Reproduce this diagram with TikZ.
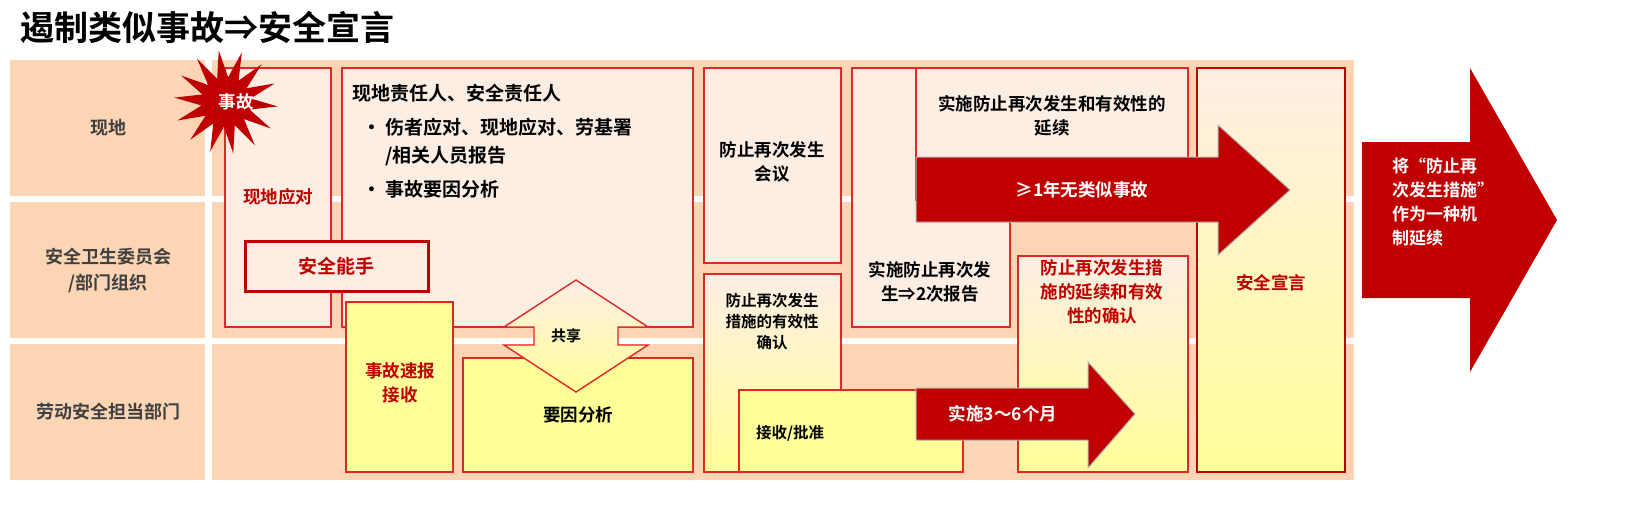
\documentclass[tikz,border=0pt]{standalone}
\usepackage{fontspec}
\setmainfont{Noto Sans CJK SC}[BoldFont={Noto Sans CJK SC Bold}]
\usetikzlibrary{shapes.geometric}
\definecolor{peach}{HTML}{FCD5B5}
\definecolor{lightp}{HTML}{FDEEE4}
\definecolor{yel}{HTML}{FFFF99}
\definecolor{dred}{HTML}{C00000}
\definecolor{bord}{HTML}{E02828}
\definecolor{lab}{HTML}{404040}
\tikzset{
 band/.style={fill=peach,draw=none},
 box/.style={draw=bord,line width=1.4pt,fill=lightp},
 ybox/.style={draw=bord,line width=1.4pt,fill=yel},
 gbox/.style={draw=bord,line width=1.4pt,top color=lightp,bottom color=yel,middle color=lightp!50!yel},
 txt/.style={font=\bfseries\fontsize{17.5}{24}\selectfont,align=center,inner sep=0pt},
 lbl/.style={txt,text=lab,font=\bfseries\fontsize{18}{26}\selectfont},
 rtxt/.style={txt,text=dred},
 wtxt/.style={txt,text=white},
 arr/.style={fill=dred,draw=gray!60,line width=1pt}
}
\begin{document}
\begin{tikzpicture}[x=1pt,y=-1pt]
\useasboundingbox (0,0) rectangle (1650,520);
\node[anchor=west,font=\bfseries\fontsize{34}{38}\selectfont,inner sep=0pt] (title) at (20,27) {遏制类似事故⇒安全宣言};
% bands
\fill[band] (10,60) rectangle (205,196);
\fill[band] (10,202) rectangle (205,338);
\fill[band] (10,344) rectangle (205,480);
\fill[band] (212,60) rectangle (1354,196);
\fill[band] (212,202) rectangle (1354,338);
\fill[band] (212,344) rectangle (1354,480);
\node[lbl] (l1) at (108,128) {现地};
\node[lbl] (l2) at (108,270) {安全卫生委员会\\/部门组织};
\node[lbl] (l3) at (108,412) {劳动安全担当部门};
% boxes
\draw[box] (225,68) rectangle (331,327);
\node[rtxt] (xd) at (278,197) {现地应对};
\draw[box] (342,68) rectangle (693,327);
\node[txt,anchor=north west,font=\bfseries\fontsize{19}{24}\selectfont] (zr) at (352,84) {现地责任人、安全责任人};
\node[txt,anchor=north west,align=left,font=\bfseries\fontsize{19}{28}\selectfont] (b1) at (362,118) {・\ 伤者应对、现地应对、劳基署\\\phantom{・\ }/相关人员报告};
\node[txt,anchor=north west,font=\bfseries\fontsize{19}{24}\selectfont] (b2) at (362,180) {・\ 事故要因分析};
\draw[draw=dred,line width=3pt,fill=lightp] (245,241) rectangle (428,291);
\node[rtxt,font=\bfseries\fontsize{19}{22}\selectfont] (aq) at (336,266) {安全能手};
\draw[ybox] (346,302) rectangle (453,472);
\node[rtxt] (sb) at (400,383) {事故速报\\接收};
\draw[ybox] (463,358) rectangle (693,472);
\node[txt] (yy) at (578,415) {要因分析};
\draw[draw=bord,line width=1.4pt,top color=lightp,bottom color=yel]
 (576,280) -- (648,327) -- (618,327) -- (618,345) -- (648,345) -- (576,392) -- (504,345) -- (534,345) -- (534,327) -- (504,327) -- cycle;
\node[txt,font=\bfseries\fontsize{15}{16}\selectfont] (gx) at (566,336) {共享};
\draw[box] (704,68) rectangle (841,263);
\node[txt] (hy) at (772,162) {防止再次发生\\会议};
\draw[gbox] (704,274) rectangle (841,472);
\node[txt,font=\bfseries\fontsize{15.5}{21}\selectfont] (yx) at (772,322) {防止再次发生\\措施的有效性\\确认};
\draw[ybox] (739,390) rectangle (963,472);
\node[txt,font=\bfseries\fontsize{15.5}{18}\selectfont] (js) at (790,433) {接收/批准};
\draw[box] (852,68) rectangle (1010,327);
\node[txt] (bg) at (930,282) {实施防止再次发\\生⇒2次报告};
\draw[box] (916,68) rectangle (1188,200);
\node[txt] (yx2) at (1052,116) {实施防止再次发生和有效性的\\延续};
\draw[gbox] (1018,256) rectangle (1188,472);
\node[rtxt] (qr) at (1102,292) {防止再次发生措\\施的延续和有效\\性的确认};
\draw[draw=dred,line width=2.5pt,top color=lightp,bottom color=yel] (1197,68) rectangle (1345,472);
\node[rtxt] (xy) at (1271,283) {安全宣言};
% arrows
\draw[arr] (916,157) -- (1218,157) -- (1218,125) -- (1290,190) -- (1218,255) -- (1218,222) -- (916,222) -- cycle;
\node[wtxt] (a1) at (1082,190) {≥1年无类似事故};
\draw[arr] (916,388) -- (1088,388) -- (1088,362) -- (1135,414) -- (1088,468) -- (1088,440) -- (916,440) -- cycle;
\node[wtxt] (a2) at (1003,414) {实施3～6个月};
\draw[fill=dred,draw=none] (1362,142) -- (1470,142) -- (1470,68) -- (1557,220) -- (1470,372) -- (1470,298) -- (1362,298) -- cycle;
\node[wtxt,align=left,anchor=north west,font=\bfseries\fontsize{17}{24}\selectfont] (a3) at (1392,158) {将“防止再\\次发生措施”\\作为一种机\\制延续};
% star
\node[star,star points=14,star point ratio=2.1,fill=dred,minimum size=104pt,inner sep=0pt,rotate=8] (st) at (226,102) {};
\node[wtxt] (sg) at (236,102) {事故};
\end{tikzpicture}
\end{document}
